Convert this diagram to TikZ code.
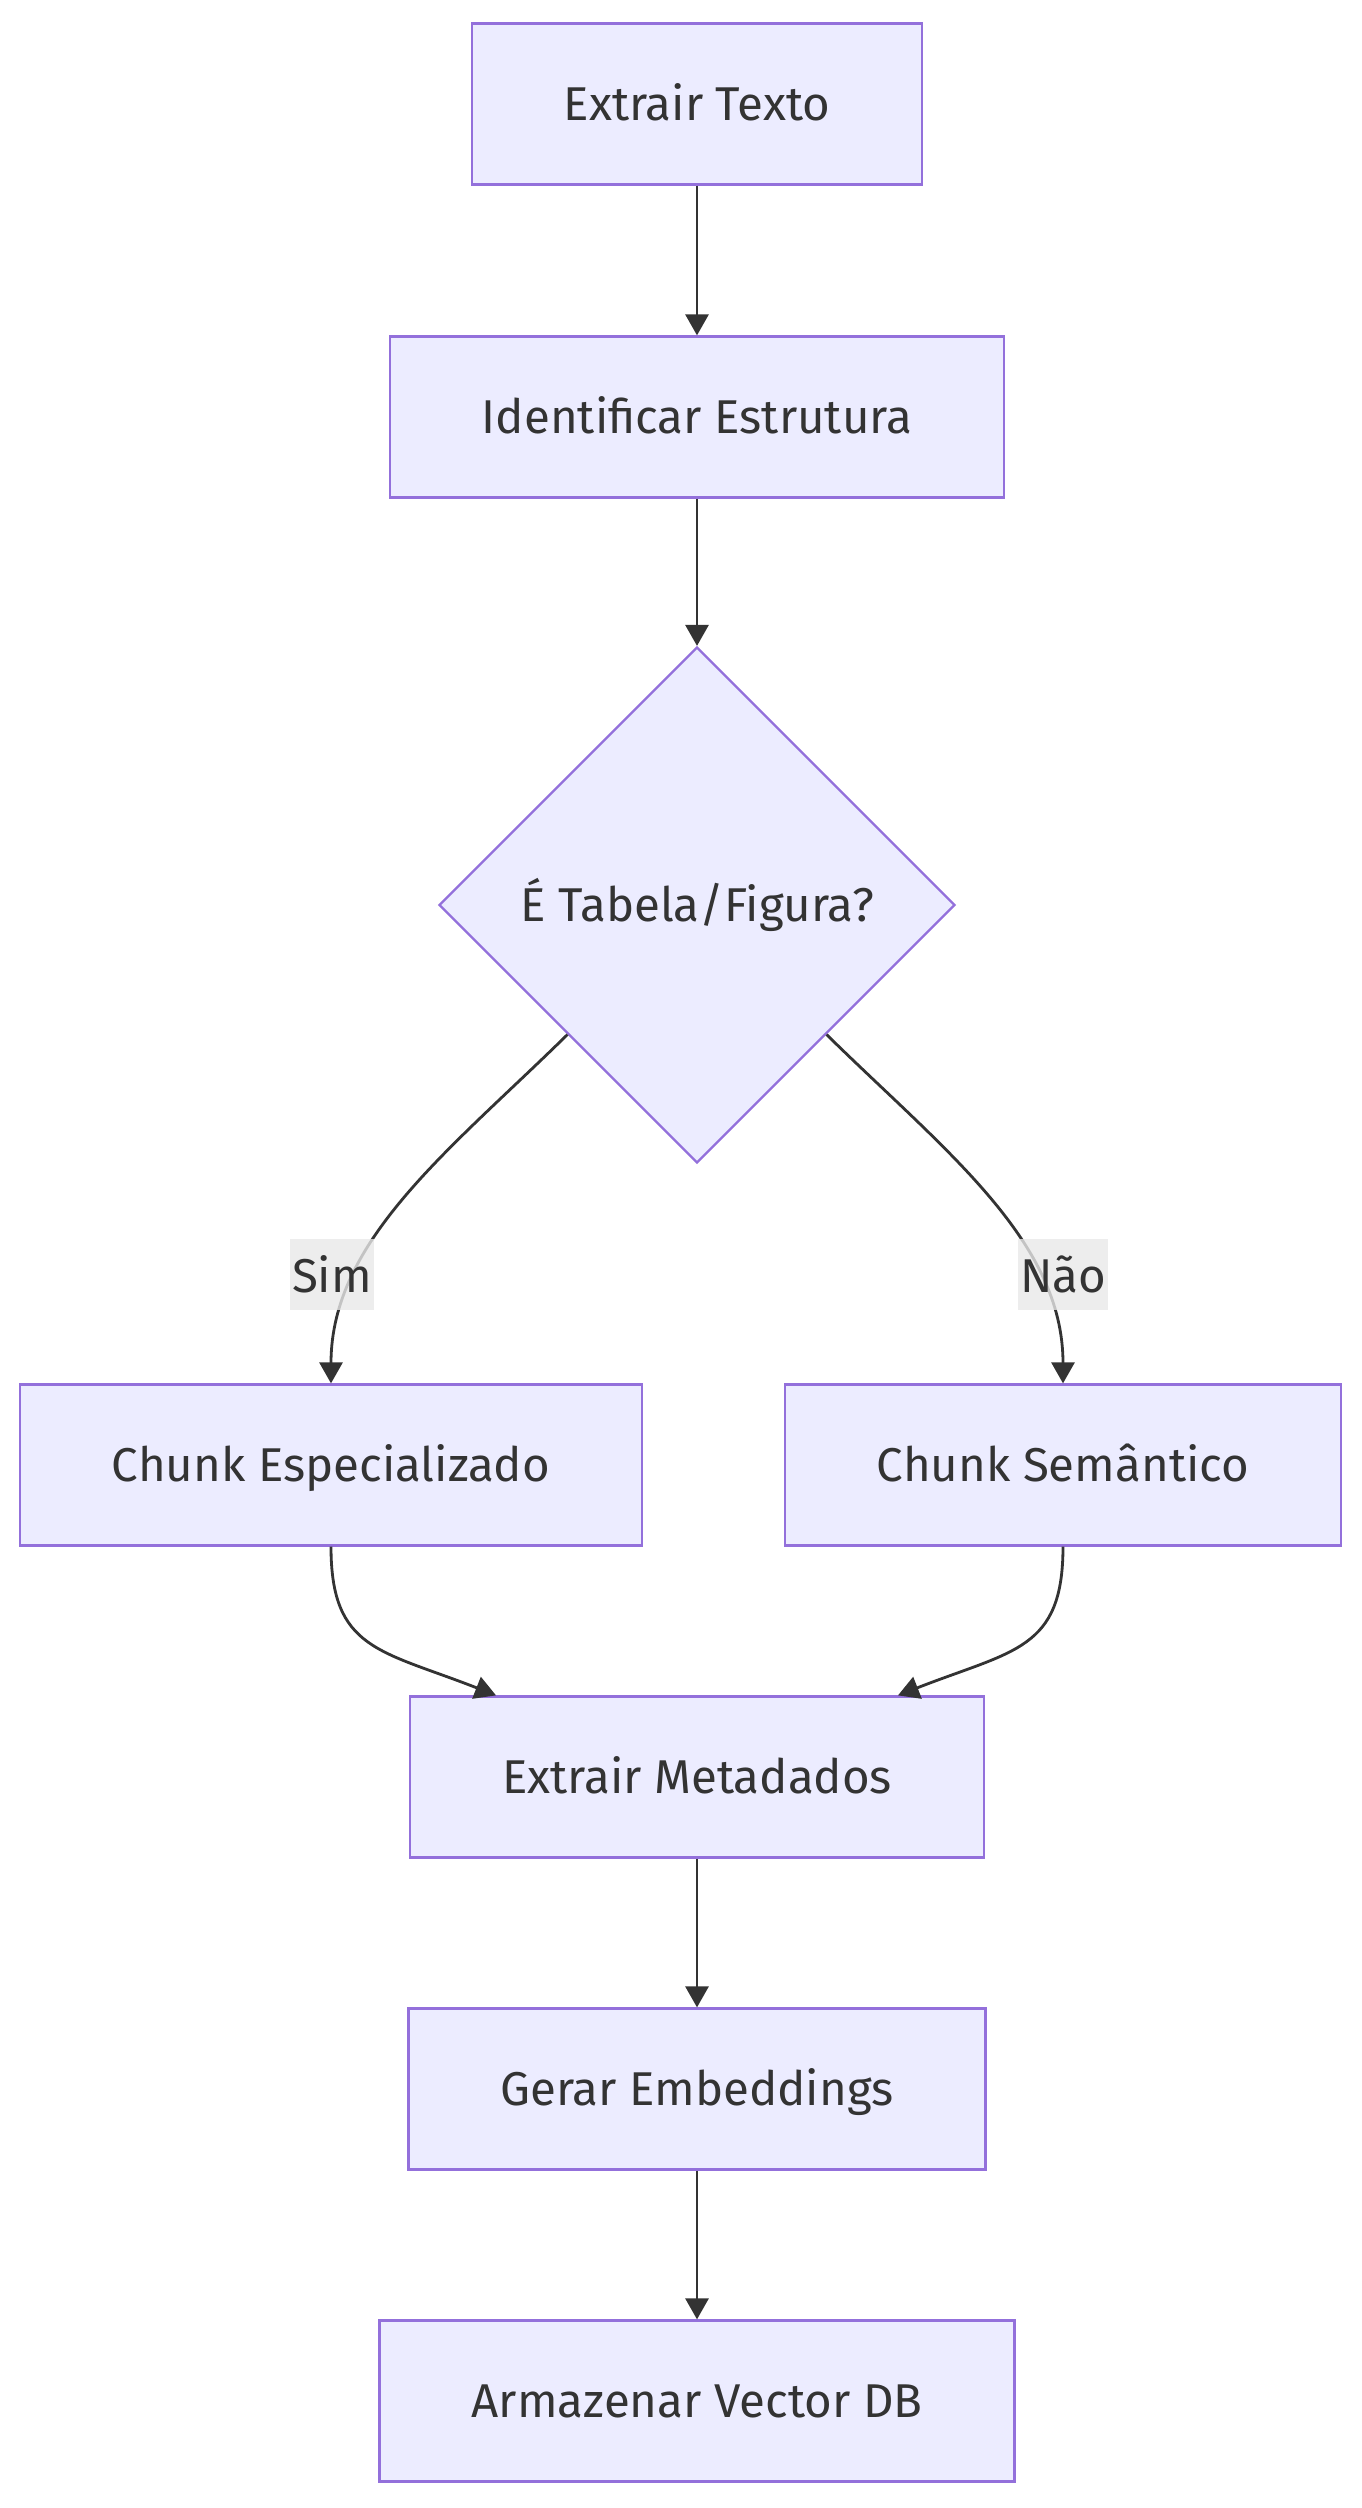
\documentclass[tikz,border=0pt]{standalone}
\usepackage{fontspec}
\setmainfont{Fira Sans}
\usetikzlibrary{shapes.geometric, arrows.meta, positioning}
\definecolor{boxfill}{HTML}{ECECFF}
\definecolor{boxline}{HTML}{9370DB}
\definecolor{ink}{HTML}{333333}
\definecolor{lblfill}{HTML}{E8E8E8}
\tikzset{
  stepbox/.style={draw=boxline, fill=boxfill, line width=1.3pt, text=ink,
    minimum height=3.22cm, inner xsep=1.84cm, text height=0.655cm, text depth=0pt,
    font=\fontsize{27}{33}\selectfont},
  choice/.style={diamond, draw=boxline, fill=boxfill, line width=1.3pt, text=ink,
    aspect=1, minimum width=10.32cm, minimum height=10.32cm, inner sep=0pt,
    font=\fontsize{27}{33}\selectfont},
  link/.style={-{Triangle[length=0.42cm,width=0.46cm]}, line width=1.6pt, draw=ink},
  lbl/.style={fill=lblfill, fill opacity=0.8, text opacity=1, text=ink,
    inner xsep=0.04cm, inner ysep=0pt, minimum height=1.42cm,
    font=\fontsize{27}{33}\selectfont},
}
\begin{document}
\begin{tikzpicture}[x=0.02cm, y=-0.02cm]
\useasboundingbox (0,0) rectangle (1362,2508);

\node[stepbox] (tx) at (697,104) {Extrair Texto};
\node[stepbox] (es) at (697,417) {Identificar Estrutura};
\node[choice] (tf) at (697,905) {É Tabela/Figura?};
\node[stepbox] (ce) at (331,1465) {Chunk Especializado};
\node[stepbox] (cs) at (1063,1465) {Chunk Semântico};
\node[stepbox] (mt) at (697,1777) {Extrair Metadados};
\node[stepbox] (eb) at (697,2089) {Gerar Embeddings};
\node[stepbox] (vd) at (697,2401) {Armazenar Vector DB};

\draw[link] (tx.south) -- (es.north);
\draw[link] (es.south) -- (tf.north);
\draw[link] (tf.south west) .. controls (450,1150) and (331,1240) .. (ce.north);
\draw[link] (tf.south east) .. controls (944,1150) and (1063,1240) .. (cs.north);
\draw[link] (ce.south) .. controls (331,1650) and (380,1650) .. ([xshift=-4.02cm]mt.north);
\draw[link] (cs.south) .. controls (1063,1650) and (1014,1650) .. ([xshift=4.02cm]mt.north);
\draw[link] (mt.south) -- (eb.north);
\draw[link] (eb.south) -- (vd.north);

\node[lbl] (sim) at (332,1274) {Sim};
\node[lbl] (nao) at (1063,1274) {Não};

\end{tikzpicture}
\end{document}
